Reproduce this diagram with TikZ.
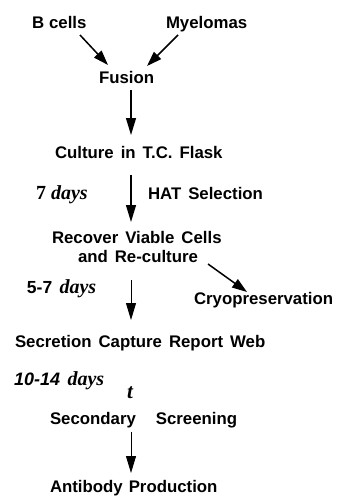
\documentclass[tikz,border=0pt]{standalone}
\usepackage{fontspec}
\setmainfont{Liberation Sans}[WordSpace=1.5]
\newfontfamily\tms{Liberation Serif}
\usetikzlibrary{arrows.meta,calc}
\begin{document}
\begin{tikzpicture}[x=1pt,y=-1pt,
  lbl/.style={anchor=base west,inner sep=0pt,outer sep=0pt,font=\fontsize{16.8}{20}\selectfont\bfseries},
  dlbl/.style={anchor=base west,inner sep=0pt,outer sep=0pt,font=\fontsize{20}{22}\selectfont\bfseries},
  arr/.style={line width=1.2pt,-{Triangle[length=17pt,width=10pt]}},
  darr/.style={line width=1.5pt,-{Triangle[length=15pt,width=10pt]}}]
\useasboundingbox (0,0) rectangle (337,503);
\coordinate (axis) at (131,0);
\node[lbl] (bcells) at (32,29) {B\hspace{5pt}cells};
\node[lbl] (myel) at (166,29) {Myelomas};
\node[lbl] (fusion) at (99,84) {Fusion};
\node[lbl] (culture) at (55,158) {Culture in T.C. Flask};
\node[dlbl] (d7) at (36,199) {\tms 7 \textit{days}};
\node[lbl] (hat) at (148,199) {HAT Selection};
\node[lbl] (recover) at (52,243) {Recover Viable Cells};
\node[lbl] (reculture) at (78,262) {and Re-culture};
\node[dlbl] (d57) at (27,293) {\fontsize{17.5}{20}\selectfont 5-7 \tms\fontsize{20}{22}\selectfont\itshape days};
\node[lbl] (cryo) at (194,304) {Cryopreservation};
\node[lbl] (secr) at (15,347) {Secretion Capture Report Web};
\node[dlbl] (d1014) at (14,385) {\fontsize{18}{20}\selectfont\itshape 10-14 \tms\fontsize{20}{22}\selectfont days};
\node[dlbl] (t) at (127,398) {\tms\itshape\fontsize{21}{22}\selectfont t};
\node[lbl] (second) at (50,424) {Secondary\hspace{20pt}Screening};
\node[lbl] (antib) at (50,492) {Antibody\hspace{6pt}Production};
\draw[darr] ($(bcells.base west)+(48,6)$) -- ($(fusion.base west)+(9,-19)$);
\draw[darr] ($(myel.base west)+(12,6)$) -- ($(fusion.base west)+(48,-18)$);
\draw[arr] ($(fusion.base -| axis)+(0,6)$) -- ($(culture.base -| axis)+(0,-23)$);
\draw[arr] ($(culture.base -| axis)+(0,17)$) -- ($(recover.base -| axis)+(0,-21)$);
\draw[darr] ($(reculture.base west)+(130,2)$) -- ($(cryo.base west)+(53,-12)$);
\draw[arr,line width=0.9pt] ($(reculture.base -| axis)+(0,18)$) -- ($(secr.base -| axis)+(0,-27)$);
\draw[arr,line width=0.9pt] ($(second.base -| axis)+(0,8)$) -- ($(antib.base -| axis)+(0,-19)$);
\end{tikzpicture}
\end{document}
